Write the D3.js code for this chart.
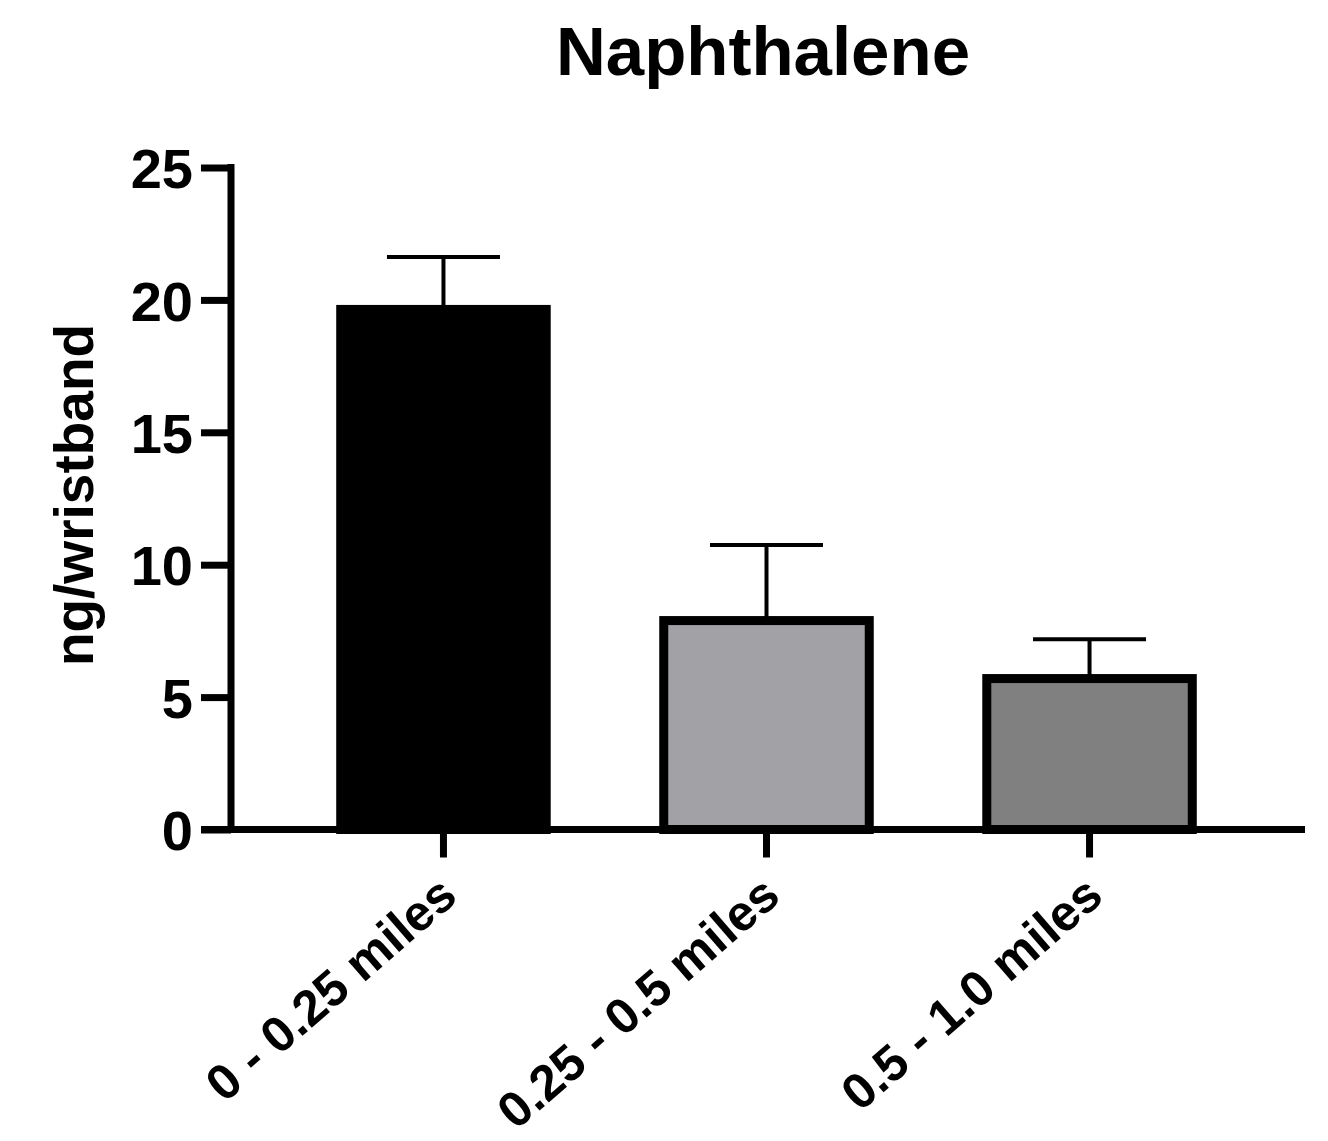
<!DOCTYPE html>
<html lang="en">
<head>
    <meta charset="UTF-8">
    <title>Naphthalene</title>
    <style>
        body { margin: 0; background: #fff; }
        #chart { font-family: "Liberation Sans", Arial, sans-serif; }
    </style>
    <script src="https://d3js.org/d3.v7.min.js"></script>
</head>
<body>
    <div id="chart"></div>
    <script>
// data
const categories = ["0 - 0.25 miles", "0.25 - 0.5 miles", "0.5 - 1.0 miles"];
const means = [19.64, 7.89, 5.70];
const errors = [1.98, 2.85, 1.48];
const barColors = ["#000000", "#a2a1a6", "#808080"];
const yTicks = [0, 5, 10, 15, 20, 25];

const width = 1328, height = 1141;
const axisX = 231, zeroY = 829.5;

const svg = d3.select("#chart")
    .append("svg")
    .attr("width", width)
    .attr("height", height);

const x = d3.scaleBand()
    .domain(categories)
    .range([228, 1305])
    .paddingInner(0.336)
    .paddingOuter(0.335);

const y = d3.scaleLinear()
    .domain([0, 25])
    .range([zeroY, 167.5]);

// title
svg.append("text")
    .attr("x", 763)
    .attr("y", 75)
    .attr("text-anchor", "middle")
    .style("font-size", "69px")
    .style("font-weight", "bold")
    .text("Naphthalene");

// y axis label
svg.append("text")
    .attr("transform", "translate(93,495) rotate(-90)")
    .attr("text-anchor", "middle")
    .style("font-size", "55px")
    .style("font-weight", "bold")
    .text("ng/wristband");

// error bars (drawn first so the bars cover the stem)
const data = categories.map((c, i) => ({cat: c, mean: means[i], err: errors[i], color: barColors[i]}));
const capW = 113;

const eb = svg.append("g").attr("stroke", "#000").attr("stroke-width", 4);
eb.selectAll(".stem")
    .data(data)
    .enter().append("line")
    .attr("x1", d => x(d.cat) + x.bandwidth() / 2)
    .attr("x2", d => x(d.cat) + x.bandwidth() / 2)
    .attr("y1", d => y(d.mean))
    .attr("y2", d => y(d.mean + d.err));
eb.selectAll(".cap")
    .data(data)
    .enter().append("line")
    .attr("x1", d => x(d.cat) + x.bandwidth() / 2 - capW / 2)
    .attr("x2", d => x(d.cat) + x.bandwidth() / 2 + capW / 2)
    .attr("y1", d => y(d.mean + d.err))
    .attr("y2", d => y(d.mean + d.err));

// bars
const sw = 9;
svg.selectAll(".bar")
    .data(data)
    .enter().append("rect")
    .attr("class", "bar")
    .attr("x", d => x(d.cat) + sw / 2)
    .attr("width", x.bandwidth() - sw)
    .attr("y", d => y(d.mean))
    .attr("height", d => y(0) - y(d.mean))
    .attr("fill", d => d.color)
    .attr("stroke", "#000")
    .attr("stroke-width", sw);

// y axis
const yAxis = svg.append("g")
    .attr("transform", "translate(" + axisX + ",0)")
    .call(d3.axisLeft(y).tickValues(yTicks).tickSize(30).tickPadding(8));
yAxis.select(".domain").remove();
yAxis.append("line")
    .attr("x1", 0).attr("x2", 0)
    .attr("y1", y(25) - 3.5).attr("y2", zeroY + 3.5)
    .attr("stroke", "#000").attr("stroke-width", 7);
yAxis.selectAll(".tick line").attr("stroke", "#000").attr("stroke-width", 7);
yAxis.selectAll(".tick text")
    .attr("fill", "#000")
    .attr("dy", "0.36em")
    .style("font-family", "'Liberation Sans', Arial, sans-serif")
    .style("font-size", "56px")
    .style("font-weight", "bold");

// x axis
const xAxis = svg.append("g")
    .attr("transform", "translate(0," + zeroY + ")")
    .call(d3.axisBottom(x).tickSize(28).tickPadding(0));
xAxis.select(".domain").remove();
xAxis.append("line")
    .attr("x1", 201).attr("x2", 1305)
    .attr("y1", 0).attr("y2", 0)
    .attr("stroke", "#000").attr("stroke-width", 7);
xAxis.selectAll(".tick line").attr("stroke", "#000").attr("stroke-width", 7);
xAxis.selectAll(".tick text")
    .attr("fill", "#000")
    .attr("text-anchor", "end")
    .attr("y", 0)
    .attr("dy", 0)
    .attr("transform", "translate(16,70) rotate(-41)")
    .style("font-family", "'Liberation Sans', Arial, sans-serif")
    .style("font-size", "50px")
    .style("font-weight", "bold");
    </script>
</body>
</html>
